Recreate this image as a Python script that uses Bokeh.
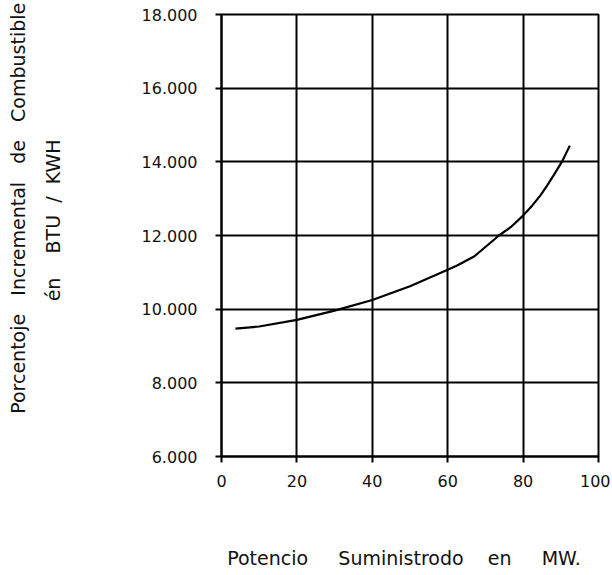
from bokeh.plotting import figure
from bokeh.models import FixedTicker, Range1d, LinearAxis
from bokeh.embed import file_html
from bokeh.resources import INLINE

# ---- data ----
power_mw = [3.7, 10, 20, 30, 40, 50, 60, 62.5, 67, 73.6, 76.7, 80, 82.4, 84.6, 86.4, 88, 90.4, 92.4]
heat_rate = [9470, 9530, 9710, 9960, 10250, 10620, 11070, 11185, 11430, 12000, 12225, 12540,
             12810, 13090, 13360, 13620, 14020, 14440]

x_ticks = [0, 20, 40, 60, 80, 100]
x_tick_labels = ["0", "20", "40", "60", "80", "100"]
y_ticks = [6000, 8000, 10000, 12000, 14000, 16000, 18000]
y_tick_labels = ["6.000", "8.000", "10.000", "12.000", "14.000", "16.000", "18.000"]

x_title_words = ["Potencio", "Suministrodo", "en", "MW."]
y_title_line1 = ["Porcentoje", "Incremental", "de", "Combustible"]
y_title_line2 = ["én", "BTU", "/", "KWH"]

FONT = "DejaVu Sans"
NB = "\u00a0"

p = figure(width=610, height=572, output_backend="svg", toolbar_location=None,
           x_range=Range1d(0, 100), y_range=Range1d(6000, 18000),
           min_border_left=221, min_border_right=12, min_border_top=14, min_border_bottom=116)

p.background_fill_color = "white"
p.border_fill_color = "white"
p.outline_line_color = "black"
p.outline_line_width = 2

# grid
p.xgrid.ticker = FixedTicker(ticks=x_ticks)
p.ygrid.ticker = FixedTicker(ticks=y_ticks)
for g in (p.xgrid, p.ygrid):
    g.grid_line_color = "black"
    g.grid_line_width = 2
    g.grid_line_alpha = 1.0

# axes
p.xaxis.ticker = FixedTicker(ticks=x_ticks)
p.yaxis.ticker = FixedTicker(ticks=y_ticks)
p.xaxis.major_label_overrides = {t: l for t, l in zip(x_ticks, x_tick_labels)}
p.yaxis.major_label_overrides = {t: l for t, l in zip(y_ticks, y_tick_labels)}
for ax in (p.xaxis, p.yaxis):
    ax.axis_line_color = "black"
    ax.axis_line_width = 2
    ax.major_tick_line_color = "black"
    ax.major_tick_line_width = 2
    ax.major_tick_in = 0
    ax.major_tick_out = 6
    ax.minor_tick_line_color = None
    ax.major_label_text_font = FONT
    ax.major_label_text_font_size = "16px"
    ax.major_label_text_color = "#111111"
    ax.axis_label_text_font = FONT
    ax.axis_label_text_font_size = "19px"
    ax.axis_label_text_font_style = "normal"
    ax.axis_label_text_color = "#111111"
p.yaxis.major_label_standoff = 18
p.xaxis.major_label_standoff = 12

# x title, widely spaced lettering
p.xaxis.axis_label = (x_title_words[0] + NB * 5 + x_title_words[1] + NB * 4 +
                      x_title_words[2] + NB * 5 + x_title_words[3] + NB * 2)
p.xaxis.axis_label_standoff = 57

# inner y title line ("én BTU / KWH")
p.yaxis.axis_label = (NB * 5 + y_title_line2[0] + NB * 4 + y_title_line2[1] + NB * 2 +
                      y_title_line2[2] + NB * 2 + y_title_line2[3])
p.yaxis.axis_label_standoff = 75

# outer y title line on an extra, tick-less axis
outer = LinearAxis(ticker=FixedTicker(ticks=[]), axis_line_color=None,
                   major_tick_line_color=None, minor_tick_line_color=None,
                   axis_label=NB * 9 + (NB * 3).join(y_title_line1),
                   axis_label_standoff=10, axis_label_text_font=FONT,
                   axis_label_text_font_size="19px", axis_label_text_font_style="normal",
                   axis_label_text_color="#111111")
p.add_layout(outer, "left")

# curve
p.line(power_mw, heat_rate, line_color="black", line_width=2.2)

open("out.html", "w").write(file_html(p, INLINE))
